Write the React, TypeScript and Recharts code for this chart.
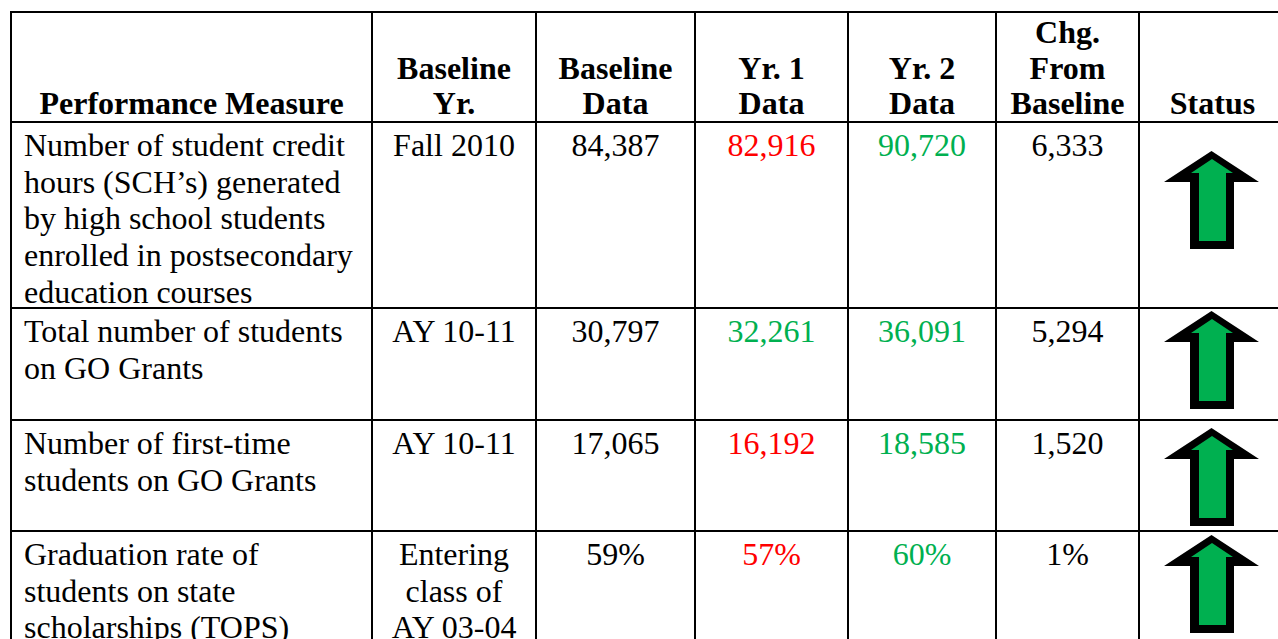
import React from "react"
import { Surface, Layer, Polygon } from "recharts"

// table content
const headers = [
  ["Performance Measure"],
  ["Baseline", "Yr."],
  ["Baseline", "Data"],
  ["Yr. 1", "Data"],
  ["Yr. 2", "Data"],
  ["Chg.", "From", "Baseline"],
  ["Status"],
]

const measures = [
  ["Number of student credit", "hours (SCH\u2019s) generated", "by high school students", "enrolled in postsecondary", "education courses"],
  ["Total number of students", "on GO Grants"],
  ["Number of first-time", "students on GO Grants"],
  ["Graduation rate of", "students on state", "scholarships (TOPS)"],
]
const baselineYears = [["Fall 2010"], ["AY 10-11"], ["AY 10-11"], ["Entering", "class of", "AY 03-04"]]
const baselineData = ["84,387", "30,797", "17,065", "59%"]
const yr1Data = ["82,916", "32,261", "16,192", "57%"]
const yr2Data = ["90,720", "36,091", "18,585", "60%"]
const changeFromBaseline = ["6,333", "5,294", "1,520", "1%"]
const statuses = ["up", "up", "up", "up"]

// layout
const W = 1278
const H = 639
const colEdges = [11, 372, 536, 695, 848, 996, 1139, 1286]
const rowEdges = [12, 122, 308, 420, 531, 720]
const arrowTopOffset = [29, 3, 8, 4]
const FONT = "Liberation Serif"
const FS = 32
const LH = 36.7
const HEAD_LH = 35.5
const RED = "#FF0000"
const GREEN = "#00B050"

const num = (s: string) => parseFloat(s.replace(/[,%]/g, ""))

function UpArrow({ x, y }: { x: number; y: number }) {
  const outer = [[47.5, 0], [95, 31], [70, 31], [70, 98], [26, 98], [26, 31], [0, 31]]
  const inner = [[48, 8], [69, 22], [62, 22], [62, 90], [35, 90], [35, 22], [27, 22]]
  return (
    <Layer>
      <Polygon points={outer.map(([px, py]) => ({ x: x + px, y: y + py }))} fill="#000" stroke="none" />
      <Polygon points={inner.map(([px, py]) => ({ x: x + px, y: y + py }))} fill={GREEN} stroke="none" />
    </Layer>
  )
}

function CellText({
  lines,
  col,
  row,
  color = "#000",
  bold = false,
  align = "middle",
}: {
  lines: string[]
  col: number
  row: number
  color?: string
  bold?: boolean
  align?: "start" | "middle"
}) {
  const x = align === "start" ? colEdges[col] + 13 : (colEdges[col] + colEdges[col + 1]) / 2
  return (
    <>
      {lines.map((l, i) => {
        // header lines sit on the bottom of the header row, body lines start at the top of the cell
        const y = bold
          ? rowEdges[1] - 8 - (lines.length - 1 - i) * HEAD_LH
          : rowEdges[row + 1] + 34 + i * LH
        return (
          <text
            key={i}
            x={x}
            y={y}
            textAnchor={align}
            style={{ fontFamily: FONT, fontSize: FS, fontWeight: bold ? 700 : 400 }}
            fill={color}
          >
            {l}
          </text>
        )
      })}
    </>
  )
}

export default function App() {
  return (
    <div style={{ position: "absolute", left: 0, top: 0 }}>
      <Surface width={W} height={H}>
        {headers.map((h, c) => (
          <CellText key={`h-${c}`} lines={h} col={c} row={-1} bold />
        ))}
        {measures.map((m, r) => {
          const base = num(baselineData[r])
          const c1 = num(yr1Data[r]) >= base ? GREEN : RED
          const c2 = num(yr2Data[r]) >= base ? GREEN : RED
          return (
            <Layer key={`r-${r}`}>
              <CellText lines={m} col={0} row={r} align="start" />
              <CellText lines={baselineYears[r]} col={1} row={r} />
              <CellText lines={[baselineData[r]]} col={2} row={r} />
              <CellText lines={[yr1Data[r]]} col={3} row={r} color={c1} />
              <CellText lines={[yr2Data[r]]} col={4} row={r} color={c2} />
              <CellText lines={[changeFromBaseline[r]]} col={5} row={r} />
              {statuses[r] === "up" && (
                <UpArrow
                  x={(colEdges[6] + colEdges[7]) / 2 - 48.5}
                  y={rowEdges[r + 1] + arrowTopOffset[r]}
                />
              )}
            </Layer>
          )
        })}
        <Layer>
          {rowEdges.map((y, i) => (
            <line key={`hl-${i}`} x1={colEdges[0] - 1} x2={colEdges[7] + 1} y1={y} y2={y} stroke="#000" strokeWidth={2} />
          ))}
          {colEdges.map((x, i) => (
            <line key={`vl-${i}`} x1={x} x2={x} y1={rowEdges[0] - 1} y2={rowEdges[5]} stroke="#000" strokeWidth={2} />
          ))}
        </Layer>
      </Surface>
    </div>
  )
}
